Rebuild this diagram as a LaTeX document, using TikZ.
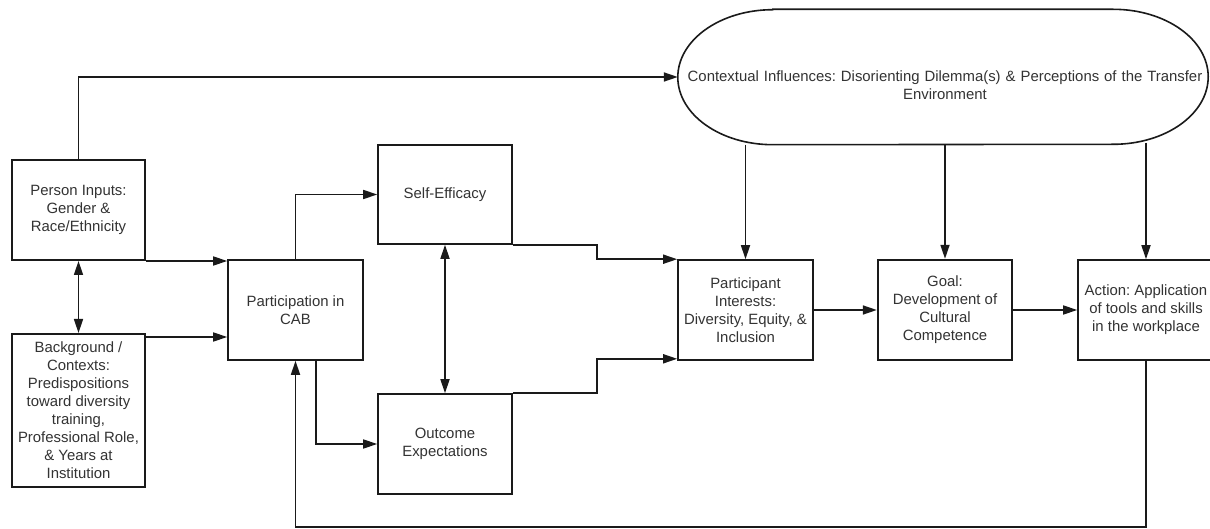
\documentclass[tikz,border=0pt]{standalone}
\usepackage{fontspec}
\setmainfont{Liberation Sans}
\usetikzlibrary{arrows.meta,calc}
\definecolor{txt}{HTML}{333333}
\definecolor{ln}{HTML}{1A1A1A}
\frenchspacing
\tikzset{
  box/.style={draw=ln, line width=1.6pt, rectangle, align=center, text=txt,
    font=\frenchspacing\fontsize{14.9}{18}\selectfont, inner sep=0pt},
  thickbox/.style={box, line width=2.4pt},
  conn/.style={draw=ln, line width=1.7pt},
  arr/.style={conn, -{Triangle[length=14pt,width=9pt]}},
  darr/.style={conn, {Triangle[length=14pt,width=9pt]}-{Triangle[length=14pt,width=9pt]}},
}
\begin{document}
\begin{tikzpicture}[x=1pt,y=-1pt]
\useasboundingbox (0,0) rectangle (1210,529);
\fill[white] (0,0) rectangle (1210,529);

\node[box, line width=2pt, minimum width=133pt, minimum height=100pt] (pin) at (78.5,210)
  {Person Inputs:\\Gender \&\\Race/Ethnicity};
\node[box, line width=2pt, minimum width=133pt, minimum height=153pt] (bg) at (78.5,410.5)
  {Background /\\Contexts:\\Predispositions\\toward diversity\\training,\\Professional Role,\\\& Years at\\Institution};
\node[box, minimum width=135pt, minimum height=100pt] (part) at (295.5,310)
  {Participation in\\CAB};
\node[box, minimum width=134pt, minimum height=99pt] (se) at (445,194.5)
  {Self-Efficacy};
\node[box, minimum width=134pt, minimum height=100pt] (oe) at (445,444)
  {Outcome\\Expectations};
\node[box, minimum width=135pt, minimum height=100pt] (pi) at (745.5,310)
  {Participant\\Interests:\\Diversity, Equity, \&\\Inclusion};
\node[thickbox, minimum width=134pt, minimum height=100pt] (goal) at (945,310)
  {Goal:\\Development of\\Cultural\\Competence};
\node[box, minimum width=136pt, minimum height=100pt] (act) at (1146,310)
  {Action: Application\\of tools and skills\\in the workplace};

% contextual influences (stadium shape)
\node[draw=none, minimum width=530pt, minimum height=135pt, inner sep=0pt] (ctx) at (943,77) {};
\draw[conn, line width=1.6pt]
  ($(ctx.north west)+(95,0)$) -- ($(ctx.north east)+(-95,0)$)
  arc[start angle=-90, end angle=90, x radius=95, y radius=67.5]
  -- ($(ctx.south west)+(95,0)$)
  arc[start angle=90, end angle=270, x radius=95, y radius=67.5] -- cycle;
\node[box, draw=none, text width=530pt] (ctxt) at (945,85)
  {Contextual Influences: Disorienting Dilemma(s) \& Perceptions of the Transfer\\Environment};

\coordinate (fb) at (0,527);

% connectors
\draw[arr] (pin.north) |- (ctx.west);
\draw[darr] (pin.south) -- (bg.north);
\draw[arr] (pin.south east) -- (pin.south east -| part.west);
\draw[arr] ($(bg.north east)+(0,4)$) -- ($(bg.north east -| part.west)+(0,4)$);
\draw[arr] (part.north) |- (se.west);
\draw[arr] ([xshift=20.5pt]part.south) |- (oe.west);
\draw[darr] (se.south) -- (oe.north);
\draw[arr] (se.south east) -- ++(84,0) |- (pi.north west);
\draw[arr] (oe.north east) -- ++(84,0) |- ([yshift=2pt]pi.south west);
\draw[arr] (pi.east) -- (goal.west);
\draw[arr] (goal.east) -- (act.west);
\draw[arr] (pi.north |- ctx.south) -- (pi.north);
\draw[arr] (goal.north |- ctx.south) -- (goal.north);
\draw[arr] ([yshift=2pt]act.north |- ctx.south) -- (act.north);
\draw[arr] (act.south) -- (act.south |- fb) -| (part.south);
\end{tikzpicture}
\end{document}
